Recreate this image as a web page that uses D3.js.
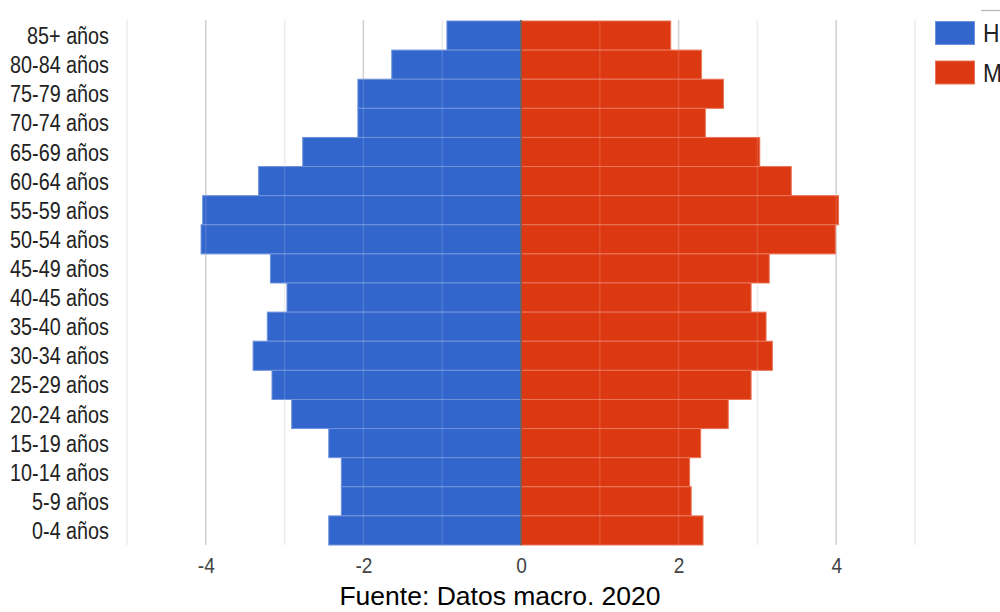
<!DOCTYPE html>
<html>
<head>
<meta charset="utf-8">
<script src="https://cdn.jsdelivr.net/npm/d3@7"></script>
<style>
  html, body { margin: 0; padding: 0; background: #fff; }
  svg { display: block; font-family: Arial, "Liberation Sans", sans-serif; }
</style>
</head>
<body>
<svg id="chart" width="1000" height="612"></svg>
<script>
// Age groups, top to bottom
const ageGroups = ["85+ años", "80-84 años", "75-79 años", "70-74 años", "65-69 años",
  "60-64 años", "55-59 años", "50-54 años", "45-49 años", "40-45 años", "35-40 años",
  "30-34 años", "25-29 años", "20-24 años", "15-19 años", "10-14 años", "5-9 años", "0-4 años"];

// Share of population (%), men drawn to the left as negative values
const hombres = [-0.94, -1.64, -2.07, -2.07, -2.77, -3.33, -4.04, -4.06, -3.18,
  -2.97, -3.22, -3.40, -3.16, -2.91, -2.44, -2.28, -2.28, -2.44];
const mujeres = [1.90, 2.29, 2.57, 2.34, 3.03, 3.43, 4.03, 3.99, 3.15,
  2.92, 3.11, 3.19, 2.92, 2.63, 2.28, 2.14, 2.16, 2.31];

const seriesNames = ["Hombres", "Mujeres"];
const tickValues = [-4, -2, 0, 2, 4];
const gridValues = [-5, -4, -3, -2, -1, 1, 2, 3, 4, 5];
const fuente = "Fuente: Datos macro. 2020";

const colors = { Hombres: "#3366cc", Mujeres: "#dc3912" };
const strokes = { Hombres: "#6f93dc", Mujeres: "#ea7458" };

const svg = d3.select("#chart");

const x = d3.scaleLinear().domain([-5, 5]).range([127, 915]);
const y = d3.scaleBand().domain(ageGroups).range([21, 545]).padding(0);

// Gridlines: darker at labelled (even) values, lighter between
svg.append("g").selectAll("line")
  .data(gridValues)
  .join("line")
  .attr("x1", d => x(d)).attr("x2", d => x(d))
  .attr("y1", 20).attr("y2", 545)
  .attr("stroke", d => d % 2 === 0 ? "#cccccc" : "#ebebeb")
  .attr("stroke-width", 1.5);

// Bars
const rows = ageGroups.map((g, i) => ({ g, h: hombres[i], m: mujeres[i] }));
const bars = svg.append("g");
bars.selectAll("rect.h")
  .data(rows)
  .join("rect")
  .attr("class", "h")
  .attr("x", d => x(d.h))
  .attr("y", d => y(d.g))
  .attr("width", d => x(0) - x(d.h))
  .attr("height", y.bandwidth())
  .attr("fill", colors.Hombres)
  .attr("stroke", strokes.Hombres)
  .attr("stroke-width", 1);
bars.selectAll("rect.m")
  .data(rows)
  .join("rect")
  .attr("class", "m")
  .attr("x", x(0))
  .attr("y", d => y(d.g))
  .attr("width", d => x(d.m) - x(0))
  .attr("height", y.bandwidth())
  .attr("fill", colors.Mujeres)
  .attr("stroke", strokes.Mujeres)
  .attr("stroke-width", 1);

// Faint gridlines showing through the bars
svg.append("g").selectAll("line")
  .data(gridValues)
  .join("line")
  .attr("x1", d => x(d)).attr("x2", d => x(d))
  .attr("y1", 21).attr("y2", 545)
  .attr("stroke", "#ffffff")
  .attr("stroke-opacity", 0.12)
  .attr("stroke-width", 1.5);

// Zero baseline
svg.append("line")
  .attr("x1", x(0)).attr("x2", x(0))
  .attr("y1", 20).attr("y2", 545)
  .attr("stroke", "#5f5f5f")
  .attr("stroke-width", 1.6);

// Category axis
const yAxis = svg.append("g")
  .attr("transform", "translate(109,0)")
  .call(d3.axisLeft(y).tickSize(0).tickPadding(0));
yAxis.select(".domain").remove();
yAxis.selectAll("text")
  .attr("x", 0)
  .attr("dy", "0.37em")
  .attr("transform", "scale(0.86,1)")
  .attr("font-size", 23)
  .attr("font-family", "Arial, 'Liberation Sans', sans-serif")
  .attr("fill", "#222");

// Value axis
const xAxis = svg.append("g")
  .attr("transform", "translate(0,557)")
  .call(d3.axisBottom(x).tickValues(tickValues).tickSize(0).tickPadding(0)
    .tickFormat(d => d < 0 ? "-" + Math.abs(d) : String(d)));
xAxis.select(".domain").remove();
xAxis.selectAll("text")
  .attr("y", 0)
  .attr("dy", "0.73em")
  .attr("transform", "scale(0.85,1)")
  .attr("font-size", 22.5)
  .attr("font-family", "Arial, 'Liberation Sans', sans-serif")
  .attr("fill", "#444");

// Legend
const legend = svg.append("g");
legend.append("line")
  .attr("x1", 981).attr("x2", 1000)
  .attr("y1", 10.5).attr("y2", 10.5)
  .attr("stroke", "#b5b5b5").attr("stroke-width", 1.2);
const items = legend.selectAll("g.item")
  .data(seriesNames)
  .join("g")
  .attr("class", "item")
  .attr("transform", (d, i) => `translate(935,${21 + i * 39.5})`);
items.append("rect")
  .attr("x", 0.5).attr("y", 0.5)
  .attr("width", 39).attr("height", 23)
  .attr("fill", d => colors[d])
  .attr("stroke", d => strokes[d]);
items.append("text")
  .attr("transform", "translate(48,21) scale(0.88,1)")
  .attr("font-size", 26)
  .attr("fill", "#222")
  .text(d => d);

// Source note
svg.append("text")
  .attr("x", 500).attr("y", 605)
  .attr("text-anchor", "middle")
  .attr("font-size", 26.5)
  .attr("fill", "#000")
  .text(fuente);
</script>
</body>
</html>
